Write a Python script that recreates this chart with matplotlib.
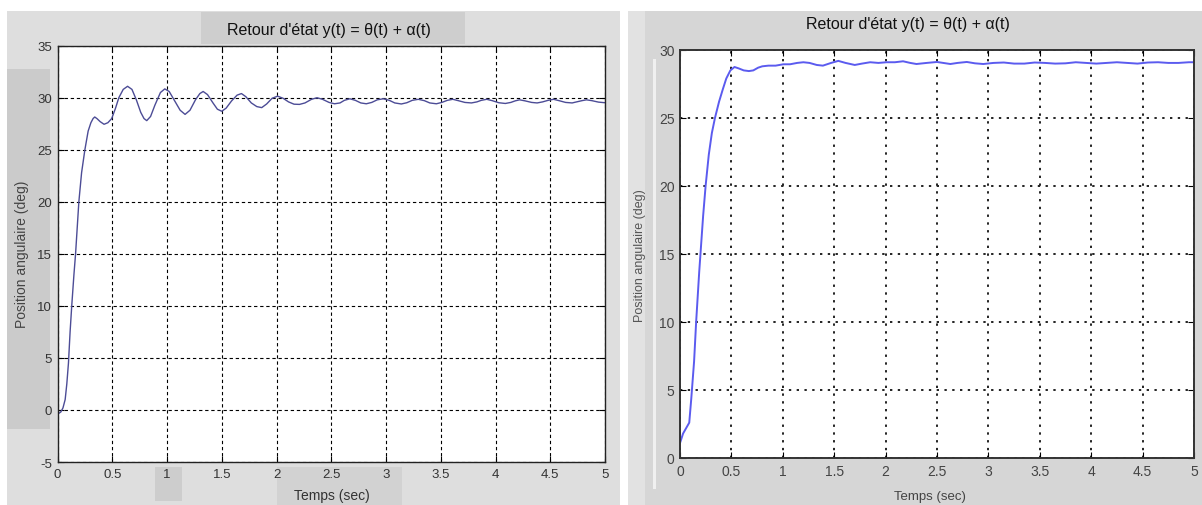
import matplotlib
matplotlib.use("Agg")
import matplotlib.pyplot as plt
from matplotlib.patches import Rectangle

plt.rcParams['font.family'] = ['Liberation Sans', 'DejaVu Sans']
plt.rcParams['axes.unicode_minus'] = False

# --- data ---
t_left = [0.00, 0.03, 0.05, 0.07, 0.085, 0.10, 0.115, 0.13, 0.15, 0.165, 0.18, 0.195,
          0.22, 0.25, 0.28, 0.305, 0.325, 0.34, 0.36, 0.39, 0.425, 0.46, 0.495, 0.53,
          0.56, 0.60, 0.64, 0.68, 0.72, 0.76, 0.79, 0.815, 0.85, 0.89, 0.94, 0.98,
          1.02, 1.07, 1.12, 1.165, 1.21, 1.26, 1.30, 1.33, 1.37, 1.42, 1.46, 1.50,
          1.54, 1.59, 1.64, 1.68, 1.72, 1.77, 1.82, 1.865, 1.91, 1.96, 2.01, 2.06,
          2.11, 2.16, 2.21, 2.26, 2.32, 2.37, 2.42, 2.48, 2.53, 2.58, 2.62, 2.67,
          2.72, 2.77, 2.82, 2.87, 2.92, 2.975, 3.03, 3.08, 3.14, 3.19, 3.24, 3.295,
          3.35, 3.40, 3.46, 3.51, 3.56, 3.61, 3.66, 3.72, 3.78, 3.83, 3.87, 3.92,
          3.97, 4.03, 4.09, 4.14, 4.18, 4.22, 4.27, 4.33, 4.38, 4.43, 4.48, 4.53,
          4.58, 4.64, 4.70, 4.74, 4.79, 4.83, 4.88, 4.94, 5.00]
y_left = [-0.4, -0.2, 0.2, 1.0, 2.5, 4.5, 7.5, 10.0, 13.0, 15.0, 17.5, 20.0,
          22.8, 25.0, 26.8, 27.6, 28.0, 28.15, 28.0, 27.7, 27.45, 27.6, 28.0, 29.0,
          30.0, 30.8, 31.1, 30.8, 29.8, 28.6, 28.0, 27.8, 28.2, 29.3, 30.5, 30.85,
          30.6, 29.7, 28.8, 28.4, 28.8, 29.8, 30.4, 30.6, 30.3, 29.5, 28.9, 28.7,
          29.0, 29.7, 30.25, 30.4, 30.1, 29.5, 29.15, 29.05, 29.4, 29.95, 30.15, 29.95,
          29.6, 29.38, 29.36, 29.5, 29.85, 30.0, 29.85, 29.55, 29.42, 29.5, 29.75, 29.9,
          29.75, 29.5, 29.42, 29.55, 29.8, 29.9, 29.75, 29.5, 29.4, 29.52, 29.75, 29.85,
          29.72, 29.5, 29.42, 29.55, 29.75, 29.85, 29.72, 29.55, 29.5, 29.6, 29.75, 29.85,
          29.72, 29.52, 29.45, 29.55, 29.7, 29.8, 29.7, 29.55, 29.5, 29.6, 29.75, 29.85,
          29.72, 29.55, 29.5, 29.6, 29.72, 29.8, 29.72, 29.58, 29.52]

t_right = [0.00, 0.03, 0.06, 0.09, 0.11, 0.137, 0.157, 0.187, 0.20, 0.225, 0.249, 0.28,
           0.31, 0.34, 0.38, 0.416, 0.45, 0.49, 0.53, 0.57, 0.62, 0.67, 0.713, 0.76,
           0.80, 0.86, 0.93, 1.005, 1.07, 1.14, 1.20, 1.26, 1.33, 1.39, 1.47, 1.54,
           1.61, 1.70, 1.77, 1.85, 1.93, 2.01, 2.09, 2.17, 2.24, 2.30, 2.40, 2.50,
           2.56, 2.63, 2.70, 2.79, 2.87, 2.95, 3.05, 3.15, 3.25, 3.35, 3.45, 3.55,
           3.65, 3.75, 3.85, 3.95, 4.05, 4.15, 4.25, 4.35, 4.45, 4.55, 4.65, 4.75,
           4.85, 4.95, 5.00]
y_right = [1.1, 1.8, 2.2, 2.6, 4.4, 7.1, 10.0, 13.7, 15.1, 17.8, 20.0, 22.3,
           23.9, 25.0, 26.2, 27.1, 27.9, 28.5, 28.75, 28.65, 28.5, 28.45, 28.5, 28.7,
           28.8, 28.85, 28.85, 28.95, 28.95, 29.05, 29.1, 29.05, 28.9, 28.85, 29.05, 29.2,
           29.05, 28.9, 29.0, 29.1, 29.05, 29.1, 29.1, 29.17, 29.05, 28.97, 29.05, 29.12,
           29.05, 28.97, 29.05, 29.12, 29.02, 28.97, 29.05, 29.08, 29.0, 29.0, 29.08, 29.05,
           29.0, 29.02, 29.1, 29.05, 29.0, 29.05, 29.1, 29.05, 29.0, 29.08, 29.1, 29.05,
           29.05, 29.1, 29.1]

x_ticks = [0, 0.5, 1, 1.5, 2, 2.5, 3, 3.5, 4, 4.5, 5]
x_tick_labels = ['0', '0.5', '1', '1.5', '2', '2.5', '3', '3.5', '4', '4.5', '5']
y_ticks_left = [-5, 0, 5, 10, 15, 20, 25, 30, 35]
y_ticks_right = [0, 5, 10, 15, 20, 25, 30]

title = "Retour d'état y(t) = θ(t) + α(t)"
xlabel = "Temps (sec)"
ylabel = "Position angulaire (deg)"

W, H = 1202, 506
fig = plt.figure(figsize=(W / 100, H / 100), dpi=100)
fig.patch.set_facecolor('white')


def px_rect(x0, y0, x1, y1, color):
    # rectangle given in pixel coords (origin top-left)
    fig.patches.append(Rectangle((x0 / W, 1 - y1 / H), (x1 - x0) / W, (y1 - y0) / H,
                                 transform=fig.transFigure, facecolor=color,
                                 edgecolor='none', zorder=-10))


# window backgrounds (screenshots of two matlab figures)
px_rect(7, 12, 620, 506, '#dedede')
px_rect(7, 70, 50, 430, '#cbcbcb')
px_rect(201, 13, 465, 45, '#cecece')
px_rect(155, 468, 182, 502, '#cdcdcd')
px_rect(277, 468, 402, 506, '#d2d2d2')
px_rect(628, 12, 1202, 506, '#d6d6d6')
px_rect(628, 12, 645, 506, '#e2e2e2')
px_rect(653, 60, 656, 490, '#f0f0f0')


def axes_px(x0, y0, x1, y1):
    return fig.add_axes([x0 / W, 1 - y1 / H, (x1 - x0) / W, (y1 - y0) / H])


# ---- left plot ----
ax1 = axes_px(57.5, 46.7, 605, 463)
ax1.plot(t_left, y_left, color='#4c4c96', lw=1.0)
ax1.set_xlim(0, 5)
ax1.set_ylim(-5, 35)
ax1.set_xticks(x_ticks)
ax1.set_xticklabels(x_tick_labels)
ax1.set_yticks(y_ticks_left)
ax1.grid(True, color='black', linestyle=(0, (3, 2.5)), lw=0.8)
ax1.tick_params(direction='in', length=4, labelsize=9.5, labelcolor='#333333', pad=4,
                top=True, right=True)
for s in ax1.spines.values():
    s.set_color('#222222')
    s.set_linewidth(1.0)
fig.text(329 / W, 1 - 30 / H, title, ha='center', va='center', fontsize=11.5, color='#111111')
fig.text(332 / W, 1 - 496 / H, xlabel, ha='center', va='center', fontsize=10, color='#333333')
fig.text(22 / W, 1 - 254 / H, ylabel, ha='center', va='center', rotation=90,
         fontsize=10, color='#444444')

# ---- right plot ----
ax2 = axes_px(680, 51, 1194, 459)
ax2.plot(t_right, y_right, color='#5b5bef', lw=1.4)
ax2.set_xlim(0, 5)
ax2.set_ylim(0, 30)
ax2.set_xticks(x_ticks)
ax2.set_xticklabels(x_tick_labels)
ax2.set_yticks(y_ticks_right)
ax2.grid(True, color='#222222', linestyle=(0, (1.2, 2.8)), lw=1.4)
ax2.tick_params(direction='in', length=4, labelsize=10, labelcolor='#444444', pad=4,
                top=True, right=True)
for s in ax2.spines.values():
    s.set_color('#333333')
    s.set_linewidth(1.4)
fig.text(908 / W, 1 - 25 / H, title, ha='center', va='center', fontsize=11.5, color='#111111')
fig.text(930 / W, 1 - 497 / H, xlabel, ha='center', va='center', fontsize=9.5, color='#444444')
fig.text(640 / W, 1 - 256 / H, ylabel, ha='center', va='center', rotation=90,
         fontsize=9, color='#555555')

fig.savefig('out.png', dpi=100, facecolor=fig.get_facecolor())
